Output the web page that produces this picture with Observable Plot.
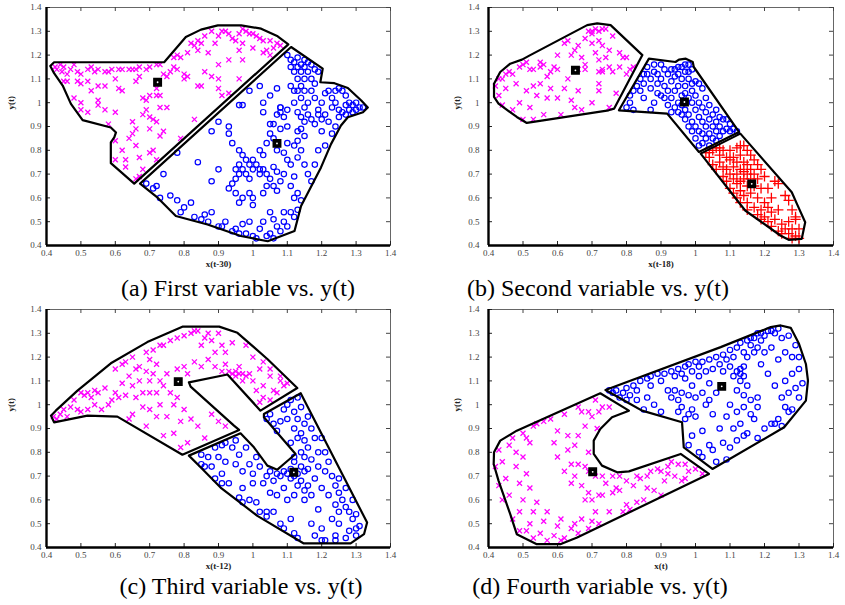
<!DOCTYPE html>
<html><head><meta charset="utf-8">
<script src="https://cdn.jsdelivr.net/npm/d3@7"></script>
<script src="https://cdn.jsdelivr.net/npm/@observablehq/plot@0.6"></script>
<style>
body{margin:0;background:#fff;width:845px;height:605px;position:relative;overflow:hidden}
.panel{position:absolute}
.cap{position:absolute;font-family:"Liberation Serif","Times New Roman",serif;font-size:24px;color:#000;white-space:nowrap;transform:translateX(-50%);line-height:24px}
</style></head><body>
<div id="pa" class="panel" style="left:0;top:0"></div>
<div id="pb" class="panel" style="left:420px;top:0"></div>
<div id="pc" class="panel" style="left:0;top:302px"></div>
<div id="pd" class="panel" style="left:420px;top:302px"></div>
<div class="cap" style="left:238px;top:276px">(a) First variable vs. y(t)</div>
<div class="cap" style="left:598px;top:276px">(b) Second variable vs. y(t)</div>
<div class="cap" style="left:241px;top:574px">(c) Third variable vs. y(t)</div>
<div class="cap" style="left:600px;top:574px">(d) Fourth variable vs. y(t)</div>
<script>
const ticks = [0.4,0.5,0.6,0.7,0.8,0.9,1.0,1.1,1.2,1.3,1.4];
const xLabels = ["x(t-30)","x(t-18)","x(t-12)","x(t)"];
const yLabel = "y(t)";

// ---- Panel (a) ----
const aBoundMag = [[0.411,1.154],[0.422,1.17],[0.742,1.17],[0.805,1.276],[0.849,1.307],[0.898,1.325],[0.966,1.325],[1.024,1.311],[1.072,1.279],[1.103,1.245],[0.655,0.66],[0.587,0.746],[0.587,0.833],[0.597,0.854],[0.602,0.875],[0.587,0.896],[0.505,0.927],[0.471,0.995],[0.447,1.072],[0.422,1.124]];
const aBoundBlue = [[0.672,0.66],[1.111,1.234],[1.203,1.143],[1.196,1.086],[1.237,1.082],[1.276,1.062],[1.315,1.009],[1.334,0.98],[1.32,0.96],[1.276,0.939],[1.256,0.904],[1.227,0.826],[1.198,0.728],[1.14,0.566],[1.121,0.461],[1.043,0.418],[0.965,0.44],[0.868,0.488],[0.776,0.524],[0.723,0.601]];
const aCentroids = [[0.723,1.086],[1.07,0.829]];
const aMag = [[0.425,1.15],[0.43,1.14],[0.44,1.16],[0.445,1.13],[0.45,1.15],[0.46,1.12],[0.47,1.14],[0.48,1.16],[0.49,1.13],[0.50,1.12],[0.52,1.14],[0.53,1.15],[0.54,1.13],[0.55,1.14],[0.57,1.13],[0.58,1.13],[0.59,1.14],[0.61,1.14],[0.62,1.14],[0.64,1.14],[0.65,1.14],[0.66,1.14],[0.67,1.15],[0.69,1.14],[0.70,1.15],[0.72,1.16],[0.73,1.16],
[0.45,1.09],[0.46,1.09],[0.49,1.09],[0.5,1.08],[0.52,1.09],[0.55,1.07],[0.57,1.07],[0.6,1.1],[0.61,1.06],[0.62,1.05],[0.66,1.09],[0.67,1.11],[0.68,1.02],[0.69,1.01],[0.7,1.03],[0.72,1.03],[0.73,1.03],[0.72,1.06],[0.74,1.12],[0.75,1.11],[0.76,1.13],[0.77,1.15],[0.78,1.14],[0.8,1.12],[0.8,1.1],[0.81,1.11],[0.84,1.07],[0.85,1.07],[0.88,1.11],[0.86,1.13],[0.9,1.06],[0.91,1.03],[0.93,1.04],[0.96,1.1],
[0.48,1.02],[0.5,1.0],[0.5,0.97],[0.52,0.96],[0.55,0.99],[0.55,1.01],[0.53,1.05],[0.57,0.97],[0.6,0.96],[0.58,0.91],[0.6,0.84],[0.6,0.76],[0.62,0.8],[0.63,0.76],[0.63,0.73],[0.64,0.85],[0.65,0.92],[0.65,0.87],[0.66,0.82],[0.67,0.77],[0.68,0.72],[0.67,0.69],[0.66,0.68],[0.68,0.95],[0.69,0.97],[0.7,0.89],[0.71,0.93],[0.72,0.92],[0.71,0.8],[0.72,0.76],[0.73,0.86],[0.74,0.88],[0.75,0.98],[0.73,0.98],[0.7,0.79],[0.66,0.89],[0.7,0.94],[0.83,0.93],[0.79,0.85],
[0.77,1.19],[0.78,1.2],[0.79,1.19],[0.81,1.21],[0.82,1.25],[0.83,1.24],[0.84,1.26],[0.84,1.22],[0.85,1.25],[0.86,1.28],[0.87,1.21],[0.88,1.3],[0.89,1.25],[0.9,1.28],[0.91,1.3],[0.92,1.3],[0.93,1.29],[0.94,1.27],[0.95,1.26],[0.96,1.29],[0.97,1.31],[0.97,1.25],[0.98,1.3],[0.99,1.29],[1.0,1.29],[1.01,1.28],[1.02,1.27],[1.03,1.26],[1.04,1.22],[1.05,1.26],[1.06,1.23],[1.07,1.25],[1.08,1.24],[1.0,1.23],[0.96,1.22],[0.97,1.18],[0.93,1.18],[0.9,1.16],[1.03,1.21],[1.05,1.2],[0.9,1.1]];
const aBlue = [[1.1,1.2],[1.11,1.18],[1.12,1.17],[1.13,1.19],[1.14,1.16],[1.15,1.18],[1.16,1.17],[1.17,1.16],[1.18,1.14],[1.19,1.13],[1.14,1.13],[1.15,1.15],[1.16,1.13],[1.13,1.15],[1.12,1.13],[1.11,1.15],[1.13,1.1],[1.15,1.1],[1.17,1.1],[1.18,1.08],[1.14,1.07],[1.13,1.05],[1.12,1.05],[1.15,1.05],[1.17,1.05],[1.14,1.02],[1.16,1.0],[1.15,0.98],[1.13,0.96],[1.14,0.94],[1.16,0.95],[1.17,0.93],[1.15,0.92],[1.14,0.89],[1.15,0.86],[1.13,0.84],[1.12,0.82],[1.14,0.8],[1.13,0.77],[1.15,0.74],[1.16,0.7],[1.17,0.67],[1.18,0.74],[1.19,0.8],[1.2,0.88],[1.19,0.95],[1.2,1.0],[1.18,1.02],[1.11,1.07],[1.12,1.0],[1.1,0.97],[1.08,0.98],[1.09,0.94],[1.1,0.9],[1.13,0.88],[1.18,0.91],
[1.21,1.04],[1.22,1.05],[1.23,1.02],[1.24,1.05],[1.25,1.06],[1.26,1.05],[1.27,1.03],[1.24,1.0],[1.23,0.98],[1.25,0.97],[1.26,0.96],[1.27,0.99],[1.28,1.0],[1.29,0.99],[1.3,1.0],[1.31,0.98],[1.32,0.98],[1.3,0.97],[1.29,0.96],[1.28,0.97],[1.27,0.95],[1.25,0.94],[1.24,0.9],[1.23,0.87],[1.21,0.82],[1.21,0.95],[1.22,0.92],[1.19,0.97],[1.2,0.93],
[0.93,0.87],[0.94,0.83],[0.96,0.8],[0.97,0.78],[0.98,0.76],[0.99,0.74],[1.0,0.72],[1.0,0.76],[1.01,0.74],[1.02,0.72],[1.02,0.7],[1.03,0.72],[1.04,0.7],[1.03,0.78],[1.02,0.8],[1.04,0.83],[1.05,0.87],[1.06,0.91],[1.07,0.95],[1.08,0.96],[0.97,0.72],[0.96,0.7],[0.95,0.68],[0.94,0.66],[0.93,0.64],[0.95,0.62],[0.97,0.6],[0.98,0.7],[0.99,0.68],[0.96,0.74],[0.95,0.72],[1.06,0.73],[1.07,0.71],[1.06,0.65],[1.05,0.68],[1.07,0.63],[1.08,0.67],[1.09,0.7],[1.1,0.76],[1.09,0.79],[0.9,0.72],[0.88,0.67],[0.99,0.62],[1.0,0.6],[1.03,0.62],[1.04,0.65],
[0.99,1.05],[0.96,0.99],[0.97,0.99],[1.02,1.07],[1.03,1.0],[1.03,0.96],[1.05,1.03],[1.07,1.06],[1.08,0.98],[0.88,0.88],[0.9,0.92],[0.93,0.9],[1.05,0.91],[1.1,0.83],[1.06,0.85],[1.07,0.8],[1.08,0.89],
[0.69,0.66],[0.71,0.64],[0.72,0.65],[0.73,0.6],[0.74,0.7],[0.76,0.61],[0.78,0.59],[0.78,0.79],[0.79,0.54],[0.8,0.56],[0.82,0.58],[0.83,0.52],[0.84,0.75],[0.85,0.51],[0.86,0.53],[0.87,0.5],[0.88,0.54],[0.9,0.48],[0.91,0.48],[0.92,0.5],[0.94,0.46],[0.95,0.47],[0.96,0.45],[0.97,0.49],[0.98,0.45],[0.99,0.5],[1.0,0.44],[1.01,0.43],[1.02,0.47],[1.03,0.5],[1.04,0.44],[1.05,0.45],[1.06,0.43],[1.07,0.48],[1.08,0.46],[1.09,0.5],[1.1,0.48],[1.11,0.54],[1.12,0.52],[1.13,0.55],[1.12,0.6],[1.13,0.62],[1.14,0.59],[1.09,0.54],[1.06,0.51],[1.05,0.54],[1.0,0.57],[0.96,0.58],[1.11,0.65],[1.12,0.69],[1.11,0.74]];

// ---- Panel (b) ----
const bBoundMag = [[0.416,1.08],[0.434,1.129],[0.463,1.164],[0.497,1.181],[0.521,1.2],[0.686,1.326],[0.715,1.333],[0.754,1.326],[0.846,1.2],[0.764,0.975],[0.748,0.968],[0.511,0.915],[0.482,0.94],[0.429,0.996],[0.416,1.024]];
const bBoundBlue = [[0.865,1.185],[0.942,1.171],[0.952,1.181],[0.972,1.185],[0.992,1.171],[0.995,1.15],[1.126,0.877],[1.01,0.793],[0.918,0.954],[0.778,0.968]];
const bBoundRed = [[1.015,0.786],[1.13,0.87],[1.279,0.624],[1.294,0.575],[1.318,0.498],[1.308,0.428],[1.27,0.424],[1.246,0.442],[1.144,0.547]];
const bCentroids = [[0.652,1.136],[0.968,1.003],[1.163,0.659]];
const bMag = [[0.43,1.1],[0.44,1.1],[0.42,1.07],[0.45,1.06],[0.43,1.03],[0.44,0.99],[0.47,0.97],[0.45,1.12],[0.46,1.13],[0.47,1.12],[0.48,1.08],[0.49,1.0],[0.49,1.15],[0.5,1.16],[0.51,1.17],[0.5,0.93],[0.51,1.05],[0.52,1.14],[0.53,1.14],[0.52,0.98],[0.53,0.93],[0.54,1.03],[0.55,1.08],[0.55,1.17],[0.55,1.15],[0.56,0.95],[0.57,1.02],[0.58,1.06],[0.59,1.15],[0.6,1.14],[0.6,1.2],[0.6,1.02],[0.61,0.95],[0.62,1.25],[0.62,1.06],[0.63,1.26],[0.64,1.2],[0.64,1.01],[0.65,1.22],[0.65,0.98],[0.66,1.24],[0.66,1.05],[0.67,1.19],[0.67,0.97],[0.68,1.14],[0.68,1.16],[0.68,1.27],[0.69,1.3],[0.7,1.29],[0.7,1.25],[0.7,1.0],[0.71,1.31],[0.71,1.21],[0.72,1.26],[0.72,1.18],[0.72,1.05],[0.73,1.24],[0.73,1.14],[0.74,1.19],[0.74,1.31],[0.75,1.22],[0.75,1.15],[0.75,0.98],[0.76,1.28],[0.76,1.13],[0.77,1.04],[0.78,1.21],[0.78,1.15],[0.79,1.19],[0.8,1.19],[0.8,1.12],[0.81,1.14],[0.82,1.15],[0.72,1.13],[0.73,1.13],[0.66,1.14],[0.63,1.1],[0.57,1.11],[0.58,1.13],[0.53,1.07],[0.56,1.16],[0.7,1.3],[0.72,1.3],[0.73,1.31],[0.72,1.08]];
const bBlue = [[0.8,0.98],[0.81,1.0],[0.81,1.03],[0.82,1.05],[0.83,1.07],[0.84,1.1],[0.84,1.05],[0.85,1.08],[0.85,1.02],[0.86,1.12],[0.86,1.15],[0.87,1.1],[0.87,1.06],[0.88,1.13],[0.88,1.16],[0.89,1.12],[0.89,1.08],[0.89,1.04],[0.9,1.16],[0.9,1.1],[0.9,1.03],[0.91,1.14],[0.91,1.07],[0.91,1.02],[0.92,1.12],[0.92,1.05],[0.92,0.99],[0.93,1.14],[0.93,1.09],[0.93,1.02],[0.93,0.96],[0.94,1.14],[0.94,1.11],[0.94,1.05],[0.94,0.98],[0.95,1.15],[0.95,1.12],[0.95,1.07],[0.95,1.0],[0.95,0.96],[0.96,1.15],[0.96,1.1],[0.96,1.03],[0.96,0.99],[0.96,0.95],[0.97,1.16],[0.97,1.13],[0.97,1.07],[0.97,1.04],[0.97,0.97],[0.97,0.93],[0.98,1.16],[0.98,1.1],[0.98,1.02],[0.98,0.95],[0.98,0.9],[0.99,1.08],[0.99,1.05],[0.99,1.0],[0.99,0.92],[0.99,0.88],[1.0,1.09],[1.0,1.03],[1.0,0.97],[1.0,0.9],[1.0,0.85],[1.01,1.08],[1.01,1.0],[1.01,0.94],[1.01,0.88],[1.01,0.82],[1.02,1.06],[1.02,0.98],[1.02,0.92],[1.02,0.87],[1.03,1.02],[1.03,0.96],[1.03,0.9],[1.03,0.85],[1.04,0.99],[1.04,0.93],[1.04,0.87],[1.05,0.95],[1.05,0.9],[1.05,0.85],[1.06,0.97],[1.06,0.92],[1.06,0.88],[1.07,0.94],[1.07,0.9],[1.07,0.86],[1.08,0.93],[1.08,0.88],[1.09,0.93],[1.09,0.89],[1.1,0.91],[1.1,0.88],[1.11,0.89],[1.12,0.88],[1.02,0.83],[1.04,0.82],[1.06,0.84],[0.82,0.97],[0.87,0.97],[0.88,1.0],[0.85,1.12],[0.98,1.13],[0.99,1.14]];
const bRed = [[1.03,0.79],[1.04,0.77],[1.05,0.8],[1.05,0.74],[1.06,0.72],[1.06,0.81],[1.07,0.78],[1.07,0.75],[1.07,0.81],[1.08,0.8],[1.08,0.73],[1.08,0.69],[1.09,0.77],[1.09,0.72],[1.09,0.67],[1.1,0.8],[1.1,0.76],[1.1,0.7],[1.1,0.64],[1.11,0.77],[1.11,0.73],[1.11,0.68],[1.11,0.62],[1.12,0.81],[1.12,0.75],[1.12,0.7],[1.12,0.66],[1.12,0.6],[1.13,0.78],[1.13,0.72],[1.13,0.67],[1.13,0.63],[1.13,0.58],[1.14,0.82],[1.14,0.75],[1.14,0.71],[1.14,0.68],[1.14,0.61],[1.15,0.74],[1.15,0.7],[1.15,0.65],[1.15,0.58],[1.15,0.55],[1.16,0.78],[1.16,0.72],[1.16,0.68],[1.16,0.62],[1.17,0.76],[1.17,0.7],[1.17,0.65],[1.17,0.56],[1.18,0.74],[1.18,0.68],[1.18,0.6],[1.18,0.53],[1.19,0.72],[1.19,0.64],[1.19,0.55],[1.19,0.51],[1.2,0.69],[1.2,0.58],[1.2,0.52],[1.21,0.5],[1.21,0.56],[1.22,0.54],[1.22,0.48],[1.23,0.67],[1.23,0.51],[1.24,0.46],[1.24,0.66],[1.25,0.49],[1.25,0.45],[1.26,0.47],[1.26,0.61],[1.27,0.45],[1.27,0.59],[1.27,0.5],[1.28,0.43],[1.28,0.47],[1.28,0.55],[1.29,0.44],[1.29,0.51],[1.3,0.47],[1.3,0.43],[1.04,0.79],[1.15,0.8],[1.13,0.82],[1.21,0.64],[1.22,0.6],[1.24,0.55],[1.29,0.52]];

// ---- Panel (c) ----
const cBoundMag = [[0.413,0.954],[0.422,0.926],[0.519,0.954],[0.606,0.95],[0.795,0.79],[0.96,0.894],[0.945,0.912],[0.819,1.076],[0.814,1.094],[0.926,1.127],[1.022,0.975],[1.129,1.07],[1.042,1.192],[0.955,1.302],[0.902,1.328],[0.795,1.328],[0.693,1.263],[0.587,1.174],[0.49,1.059],[0.427,0.975]];
const cBoundBlue = [[0.814,0.786],[0.964,0.88],[1.003,0.821],[1.042,0.744],[1.071,0.727],[1.09,0.751],[1.124,0.793],[1.032,0.947],[1.032,0.961],[1.139,1.048],[1.332,0.505],[1.323,0.456],[1.284,0.417],[1.148,0.417],[1.013,0.533],[0.906,0.652],[0.848,0.737]];
const cCentroids = [[0.783,1.097],[1.119,0.716]];
const cMag = [[0.42,0.95],[0.43,0.94],[0.44,0.96],[0.45,0.98],[0.46,0.95],[0.47,0.99],[0.48,1.02],[0.49,0.98],[0.5,1.05],[0.5,0.97],[0.51,1.04],[0.52,1.05],[0.52,0.98],[0.53,1.03],[0.54,1.06],[0.54,1.0],[0.55,1.05],[0.56,0.98],[0.57,1.07],[0.58,1.0],[0.59,1.02],[0.6,1.05],[0.6,1.15],[0.61,1.03],[0.62,1.17],[0.62,1.09],[0.63,1.18],[0.63,1.04],[0.64,1.12],[0.64,0.94],[0.65,1.2],[0.65,1.08],[0.65,0.96],[0.66,1.15],[0.66,1.03],[0.67,1.16],[0.67,1.1],[0.68,1.05],[0.68,0.99],[0.69,1.22],[0.69,1.14],[0.69,0.91],[0.7,1.19],[0.7,1.1],[0.7,1.05],[0.7,0.98],[0.71,1.23],[0.71,1.13],[0.72,1.17],[0.72,1.05],[0.72,0.95],[0.73,1.25],[0.73,1.1],[0.73,1.0],[0.74,1.25],[0.74,1.08],[0.74,0.87],[0.75,1.13],[0.75,0.95],[0.76,1.27],[0.76,1.05],[0.77,1.0],[0.77,0.88],[0.78,1.28],[0.78,1.15],[0.78,1.03],[0.79,0.93],[0.79,0.82],[0.8,1.29],[0.8,1.16],[0.8,0.98],[0.81,1.13],[0.81,0.84],[0.82,1.3],[0.82,0.94],[0.83,1.31],[0.83,1.18],[0.84,1.31],[0.84,0.91],[0.85,1.25],[0.85,1.16],[0.86,1.28],[0.86,0.86],[0.87,1.3],[0.88,1.27],[0.88,0.96],[0.89,1.22],[0.89,1.16],[0.9,1.3],[0.9,0.93],[0.91,1.25],[0.91,1.14],[0.92,1.17],[0.92,0.91],[0.93,1.14],[0.94,1.26],[0.94,1.13],[0.95,1.14],[0.95,1.12],[0.96,1.13],[0.96,1.16],[0.97,1.1],[0.97,1.13],[0.98,1.25],[0.98,1.12],[0.99,1.13],[1.0,1.2],[1.0,1.1],[1.01,1.06],[1.02,1.15],[1.02,1.01],[1.03,1.08],[1.03,1.03],[1.03,1.18],[1.05,1.02],[1.05,1.12],[1.06,1.06],[1.07,1.05],[1.08,1.1],[1.09,1.08],[1.1,1.09],[1.05,1.15],[1.08,1.12],[0.92,1.22],[0.87,1.19]];
const cBlue = [[0.85,0.79],[0.85,0.75],[0.86,0.74],[0.87,0.78],[0.88,0.74],[0.89,0.69],[0.89,0.82],[0.91,0.67],[0.9,0.78],[0.91,0.71],[0.91,0.83],[0.92,0.76],[0.92,0.84],[0.93,0.67],[0.94,0.82],[0.95,0.75],[0.95,0.85],[0.96,0.61],[0.96,0.79],[0.97,0.65],[0.97,0.72],[0.97,0.59],[0.98,0.82],[0.99,0.6],[0.99,0.75],[1.0,0.71],[1.0,0.67],[1.01,0.78],[1.01,0.59],[1.02,0.74],[1.02,0.55],[1.03,0.67],[1.04,0.53],[1.04,0.7],[1.04,0.55],[1.05,0.72],[1.05,0.63],[1.06,0.68],[1.06,0.55],[1.07,0.71],[1.07,0.62],[1.08,0.7],[1.08,0.5],[1.09,0.72],[1.09,0.65],[1.09,0.48],[1.1,0.71],[1.1,0.6],[1.11,0.69],[1.11,0.52],[1.12,0.62],[1.12,0.46],[1.13,0.66],[1.13,0.44],[1.04,0.94],[1.05,0.96],[1.06,0.92],[1.07,0.89],[1.08,0.93],[1.09,0.98],[1.1,0.94],[1.1,1.0],[1.11,1.02],[1.12,0.97],[1.12,0.9],[1.13,0.86],[1.13,0.94],[1.13,1.03],[1.14,0.99],[1.14,0.88],[1.14,0.8],[1.14,0.74],[1.14,0.68],[1.15,0.92],[1.15,0.85],[1.15,0.78],[1.15,0.64],[1.15,0.6],[1.16,0.95],[1.16,0.82],[1.16,0.73],[1.16,0.66],[1.17,0.9],[1.17,0.77],[1.17,0.62],[1.17,0.5],[1.18,0.86],[1.18,0.69],[1.18,0.45],[1.19,0.8],[1.19,0.74],[1.19,0.56],[1.2,0.48],[1.2,0.86],[1.2,0.65],[1.21,0.8],[1.21,0.72],[1.21,0.43],[1.22,0.62],[1.22,0.76],[1.23,0.7],[1.23,0.52],[1.24,0.66],[1.24,0.45],[1.24,0.58],[1.25,0.63],[1.25,0.55],[1.25,0.5],[1.26,0.6],[1.25,0.69],[1.27,0.57],[1.27,0.65],[1.28,0.55],[1.28,0.47],[1.29,0.52],[1.29,0.6],[1.3,0.48],[1.3,0.54],[1.31,0.49],[1.3,0.45],[1.24,0.43],[1.2,0.43],[1.27,0.44],[1.15,0.72],[1.13,0.71],[1.12,0.7],[1.11,0.73],[1.12,0.78],[1.11,0.84],[1.12,0.76]];

// ---- Panel (d) ----
const dBoundMag = [[0.482,0.891],[0.724,1.048],[0.807,0.975],[0.758,0.947],[0.724,0.898],[0.705,0.849],[0.705,0.793],[0.729,0.744],[0.773,0.716],[0.807,0.72],[0.957,0.793],[1.039,0.709],[0.657,0.442],[0.608,0.414],[0.54,0.414],[0.482,0.456],[0.463,0.54],[0.429,0.681],[0.415,0.751],[0.416,0.8],[0.434,0.849]];
const dBoundBlue = [[0.739,1.062],[1.073,1.242],[1.218,1.326],[1.247,1.333],[1.276,1.323],[1.3,1.256],[1.32,1.171],[1.326,1.101],[1.32,1.017],[1.257,0.905],[1.049,0.73],[0.966,0.821],[0.961,0.926],[0.845,0.975],[0.811,1.003]];
const dCentroids = [[0.702,0.718],[1.076,1.077]];
const dMag = [[0.42,0.74],[0.43,0.81],[0.43,0.66],[0.44,0.6],[0.44,0.76],[0.45,0.69],[0.46,0.62],[0.46,0.83],[0.47,0.86],[0.47,0.52],[0.48,0.74],[0.48,0.8],[0.49,0.67],[0.49,0.55],[0.49,0.47],[0.5,0.88],[0.5,0.78],[0.5,0.6],[0.51,0.86],[0.51,0.71],[0.51,0.47],[0.52,0.84],[0.52,0.65],[0.52,0.5],[0.53,0.91],[0.53,0.55],[0.53,0.44],[0.54,0.92],[0.54,0.59],[0.55,0.46],[0.56,0.93],[0.56,0.51],[0.57,0.55],[0.57,0.43],[0.58,0.94],[0.59,0.45],[0.59,0.84],[0.6,0.89],[0.6,0.78],[0.6,0.49],[0.61,0.43],[0.61,0.52],[0.62,0.72],[0.62,0.96],[0.62,0.44],[0.63,0.87],[0.63,0.81],[0.64,0.75],[0.64,0.67],[0.64,0.48],[0.65,0.83],[0.65,0.7],[0.65,0.5],[0.66,0.99],[0.66,0.87],[0.66,0.75],[0.66,0.46],[0.67,0.97],[0.67,0.66],[0.67,0.52],[0.68,0.91],[0.68,0.6],[0.69,0.97],[0.69,0.63],[0.69,0.48],[0.7,0.95],[0.69,0.8],[0.7,0.6],[0.7,0.51],[0.71,1.02],[0.71,0.7],[0.71,0.55],[0.72,0.97],[0.72,0.62],[0.72,0.5],[0.73,0.99],[0.73,0.62],[0.73,0.7],[0.715,0.9],[0.74,0.67],[0.75,0.99],[0.75,0.55],[0.76,0.63],[0.76,0.7],[0.77,0.65],[0.78,0.7],[0.78,0.64],[0.79,0.55],[0.8,0.58],[0.8,0.68],[0.81,0.56],[0.82,0.66],[0.83,0.7],[0.83,0.59],[0.84,0.69],[0.85,0.6],[0.86,0.7],[0.86,0.65],[0.87,0.72],[0.88,0.64],[0.89,0.73],[0.9,0.62],[0.9,0.72],[0.91,0.68],[0.92,0.71],[0.92,0.74],[0.93,0.76],[0.94,0.7],[0.95,0.75],[0.96,0.68],[0.97,0.75],[0.98,0.72],[1.0,0.73],[1.02,0.71],[0.97,0.69],[0.69,0.72],[0.68,0.74]];
const dBlue = [[0.75,1.06],[0.76,1.05],[0.77,1.06],[0.78,1.03],[0.79,1.05],[0.8,1.07],[0.8,1.02],[0.81,1.04],[0.82,1.08],[0.83,1.06],[0.83,1.02],[0.84,1.1],[0.85,0.98],[0.86,1.11],[0.86,1.03],[0.87,1.12],[0.87,1.08],[0.88,1.0],[0.89,1.13],[0.9,0.97],[0.9,1.1],[0.91,1.13],[0.92,1.06],[0.93,1.14],[0.93,1.03],[0.94,1.12],[0.94,1.06],[0.95,1.15],[0.95,1.02],[0.95,0.97],[0.96,1.13],[0.96,1.05],[0.96,0.99],[0.97,1.16],[0.97,1.11],[0.97,0.94],[0.98,0.83],[0.98,1.17],[0.98,1.04],[0.98,0.96],[0.99,1.14],[0.99,1.08],[0.99,0.98],[0.99,0.87],[1.0,1.18],[1.0,1.03],[1.0,0.95],[1.01,1.16],[1.01,1.12],[1.01,0.8],[1.02,1.18],[1.02,1.05],[1.02,0.89],[1.02,0.78],[1.03,1.14],[1.03,1.0],[1.04,1.19],[1.04,1.09],[1.04,1.02],[1.04,0.83],[1.05,1.15],[1.05,0.96],[1.05,0.81],[1.06,1.2],[1.06,1.05],[1.06,0.76],[1.07,1.17],[1.07,0.9],[1.08,1.21],[1.08,1.14],[1.08,0.84],[1.09,1.19],[1.09,0.95],[1.09,0.77],[1.1,1.23],[1.1,1.16],[1.1,1.0],[1.1,0.82],[1.11,1.2],[1.11,1.12],[1.11,0.9],[1.12,1.24],[1.12,1.14],[1.12,1.06],[1.12,0.97],[1.12,0.85],[1.13,1.26],[1.13,1.15],[1.13,1.13],[1.13,1.1],[1.13,0.92],[1.14,1.22],[1.14,1.16],[1.14,1.12],[1.14,1.04],[1.14,0.99],[1.15,1.27],[1.15,1.2],[1.15,1.08],[1.15,0.88],[1.16,1.25],[1.16,1.28],[1.16,1.02],[1.17,1.28],[1.17,1.22],[1.17,0.94],[1.18,1.3],[1.18,1.24],[1.18,1.03],[1.18,0.86],[1.19,1.3],[1.19,1.27],[1.19,1.17],[1.2,1.29],[1.2,1.22],[1.2,0.9],[1.21,1.31],[1.21,1.13],[1.22,1.31],[1.22,1.24],[1.22,0.92],[1.23,1.3],[1.23,1.08],[1.24,1.32],[1.24,1.19],[1.24,0.94],[1.25,1.28],[1.25,1.03],[1.26,1.22],[1.26,1.1],[1.27,1.29],[1.27,1.05],[1.27,0.97],[1.28,1.2],[1.28,1.13],[1.29,1.25],[1.29,1.07],[1.3,1.15],[1.3,1.03],[1.3,1.2],[1.31,1.09],[1.28,0.98],[1.26,0.99],[1.23,0.92],[1.25,0.91],[1.18,0.99],[1.16,0.96],[1.14,0.87]];

const MAG = "#ff00ff", BLUE = "#0000ff", RED = "#ff0000";
const serif = "'Liberation Serif','Times New Roman',serif";
const fmt = d => String(+d.toFixed(1));

function panel(id, o) {
  const tx = 4 / o.fw, ty = 4 / 238; // 4px inward tick length, in data units
  const marks = [
    Plot.frame({stroke: "#666", strokeWidth: 1}),
    // inward ticks on all four sides
    Plot.ruleX(ticks, {x: d => d, y1: 0.4, y2: 0.4 + ty, stroke: "#222"}),
    Plot.ruleX(ticks, {x: d => d, y1: 1.4 - ty, y2: 1.4, stroke: "#444"}),
    Plot.ruleY(ticks, {y: d => d, x1: 0.4, x2: 0.4 + tx, stroke: "#222"}),
    Plot.ruleY(ticks, {y: d => d, x1: 1.4 - tx, x2: 1.4, stroke: "#444"}),
    Plot.ruleX([0.4], {stroke: "black", strokeWidth: 2.4}),
    Plot.ruleY([0.4], {stroke: "black", strokeWidth: 2.4}),
    Plot.axisX(ticks, {anchor: "bottom", tickSize: 0, tickPadding: 4, tickFormat: fmt, label: null, fill: "#444"}),
    Plot.axisY(ticks, {anchor: "left", tickSize: 0, tickPadding: o.pad, tickFormat: fmt, label: null, fill: "#444"}),
    Plot.text([o.xlabel], {frameAnchor: "bottom", dy: 21, fontWeight: "bold", fill: "#222"}),
    Plot.text([yLabel], {x: 0.4, y: 1.0, dx: o.ydx, rotate: -90, fontWeight: "bold", fill: "#222"})
  ];
  for (const s of o.series) {
    if (s.kind === "times") marks.push(Plot.dot(s.data, {x: d => d[0], y: d => d[1], symbol: "times", r: 2.4, stroke: MAG, strokeWidth: 1.3}));
    if (s.kind === "circle") marks.push(Plot.dot(s.data, {x: d => d[0], y: d => d[1], symbol: "circle", r: 2.7, stroke: BLUE, strokeWidth: 1.2, fill: "none"}));
    if (s.kind === "plus") marks.push(Plot.dot(s.data, {x: d => d[0], y: d => d[1], symbol: "plus", r: 3.4, stroke: RED, strokeWidth: 1.3}));
  }
  for (const b of o.bounds) {
    marks.push(Plot.line(b, {x: d => d[0], y: d => d[1], curve: "linear-closed", stroke: "black", strokeWidth: 2.2, strokeLinejoin: "round"}));
  }
  marks.push(Plot.dot(o.centroids, {x: d => d[0], y: d => d[1], symbol: "square", r: 4.2, fill: "black", stroke: "black", strokeWidth: 1.5}));
  marks.push(Plot.dot(o.centroids, {x: d => d[0], y: d => d[1], r: 0.9, fill: "white"}));
  const chart = Plot.plot({
    width: o.width, height: 280,
    marginLeft: o.ml, marginRight: o.mr, marginTop: 7, marginBottom: 35,
    x: {domain: [0.4, 1.4], axis: null},
    y: {domain: [0.4, 1.4], axis: null},
    style: {fontFamily: serif, fontSize: "9px", background: "white", overflow: "visible"},
    marks
  });
  document.getElementById(id).appendChild(chart);
}

panel("pa", {width: 420, ml: 46, mr: 30, fw: 344, pad: 5, ydx: -35, xlabel: xLabels[0],
  bounds: [aBoundMag, aBoundBlue], centroids: aCentroids,
  series: [{kind: "times", data: aMag}, {kind: "circle", data: aBlue}]});
panel("pb", {width: 425, ml: 68, mr: 12, fw: 345, pad: 9, ydx: -31, xlabel: xLabels[1],
  bounds: [bBoundMag, bBoundBlue, bBoundRed], centroids: bCentroids,
  series: [{kind: "times", data: bMag}, {kind: "circle", data: bBlue}, {kind: "plus", data: bRed}]});
panel("pc", {width: 420, ml: 46, mr: 30, fw: 344, pad: 5, ydx: -35, xlabel: xLabels[2],
  bounds: [cBoundMag, cBoundBlue], centroids: cCentroids,
  series: [{kind: "times", data: cMag}, {kind: "circle", data: cBlue}]});
panel("pd", {width: 425, ml: 68, mr: 12, fw: 345, pad: 9, ydx: -31, xlabel: xLabels[3],
  bounds: [dBoundMag, dBoundBlue], centroids: dCentroids,
  series: [{kind: "times", data: dMag}, {kind: "circle", data: dBlue}]});
</script>
</body></html>
